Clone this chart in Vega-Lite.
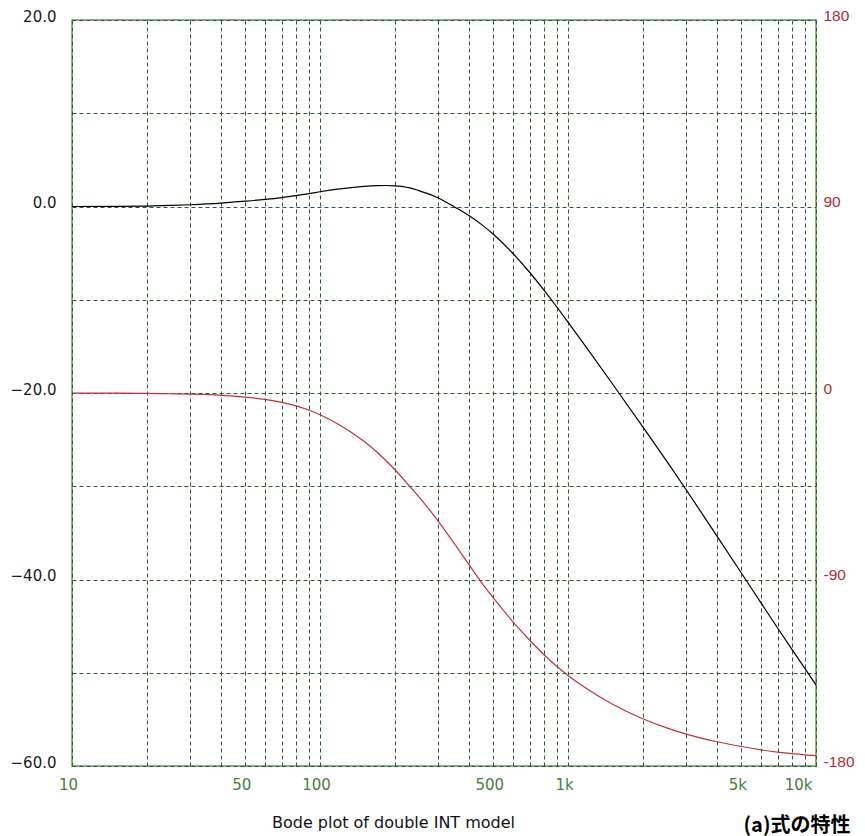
{
  "$schema": "https://vega.github.io/schema/vega-lite/v6.json",
  "width": 744,
  "height": 746,
  "autosize": {"type": "none"},
  "padding": {"left": 72, "top": 20, "right": 49, "bottom": 70},
  "background": "white",
  "config": {
    "view": {"stroke": "#5c9a52", "strokeWidth": 1.5},
    "axis": {"ticks": false, "domain": false, "labelFlush": false, "labelOverlap": false}
  },
  "data": {
    "values": [
      {"f": 10, "db": 0, "ph": -0.05},
      {"f": 15, "db": 0.01, "ph": -0.1},
      {"f": 20, "db": 0.05, "ph": -0.2},
      {"f": 25, "db": 0.11, "ph": -0.35},
      {"f": 30, "db": 0.19, "ph": -0.55},
      {"f": 40, "db": 0.37, "ph": -1.1},
      {"f": 50, "db": 0.57, "ph": -2.0},
      {"f": 60, "db": 0.76, "ph": -3.1},
      {"f": 70, "db": 0.96, "ph": -4.5},
      {"f": 80, "db": 1.17, "ph": -6.2},
      {"f": 90, "db": 1.38, "ph": -8.2},
      {"f": 100, "db": 1.58, "ph": -10.5},
      {"f": 120, "db": 1.88, "ph": -15.4},
      {"f": 150, "db": 2.16, "ph": -23.2},
      {"f": 170, "db": 2.24, "ph": -28.6},
      {"f": 185, "db": 2.25, "ph": -32.8},
      {"f": 200, "db": 2.22, "ph": -36.9},
      {"f": 230, "db": 2.0, "ph": -45.0},
      {"f": 250, "db": 1.7, "ph": -50.0},
      {"f": 300, "db": 0.92, "ph": -61.9},
      {"f": 350, "db": -0.07, "ph": -73.1},
      {"f": 400, "db": -1.0, "ph": -83.1},
      {"f": 450, "db": -1.97, "ph": -91.7},
      {"f": 500, "db": -2.98, "ph": -98.9},
      {"f": 600, "db": -5.04, "ph": -110.4},
      {"f": 700, "db": -7.05, "ph": -119.2},
      {"f": 800, "db": -8.96, "ph": -126.3},
      {"f": 900, "db": -10.75, "ph": -131.9},
      {"f": 1000, "db": -12.4, "ph": -136.3},
      {"f": 1200, "db": -15.3, "ph": -143.0},
      {"f": 1500, "db": -18.9, "ph": -150.0},
      {"f": 2000, "db": -23.6, "ph": -157.2},
      {"f": 2500, "db": -27.3, "ph": -161.6},
      {"f": 3000, "db": -30.4, "ph": -164.6},
      {"f": 4000, "db": -35.4, "ph": -168.3},
      {"f": 5000, "db": -39.3, "ph": -170.6},
      {"f": 6000, "db": -42.5, "ph": -172.2},
      {"f": 7000, "db": -45.2, "ph": -173.3},
      {"f": 8000, "db": -47.5, "ph": -174.0},
      {"f": 9000, "db": -49.5, "ph": -174.6},
      {"f": 10000, "db": -51.3, "ph": -175.0}
    ]
  },
  "layer": [
    {
      "mark": {"type": "line", "color": "#000000", "strokeWidth": 1.2, "interpolate": "monotone"},
      "encoding": {
        "x": {
          "field": "f",
          "type": "quantitative",
          "scale": {"type": "log", "domain": [10, 10000], "nice": false},
          "axis": {
            "orient": "bottom",
            "values": [10, 20, 30, 40, 50, 60, 70, 80, 90, 100, 200, 300, 400, 500, 600, 700, 800, 900, 1000, 2000, 3000, 4000, 5000, 6000, 7000, 8000, 9000, 10000],
            "labelExpr": "datum.value == 10 ? '10' : datum.value == 50 ? '50' : datum.value == 100 ? '100' : datum.value == 500 ? '500' : datum.value == 1000 ? '1k' : datum.value == 5000 ? '5k' : datum.value == 10000 ? '10k' : ''",
            "grid": true,
            "gridDash": [4, 3],
            "gridColor": "#2c5a2c",
            "gridWidth": 1,
            "gridOpacity": 1,
            "labelColor": "#3f7f3f",
            "labelFont": "DejaVu Sans",
            "labelFontSize": 15,
            "labelPadding": 11,
            "labelBaseline": "top",
            "labelOffset": -4,
            "labelAlign": {"condition": {"test": "datum.value >= 10000", "value": "right"}, "value": "center"},
            "title": "Bode plot of double INT model",
            "titleX": 321,
            "titleY": 61,
            "titleAlign": "center",
            "titleBaseline": "alphabetic",
            "titleFont": "DejaVu Sans",
            "titleFontSize": 16,
            "titleFontWeight": "normal",
            "titleColor": "#111111"
          }
        },
        "y": {
          "field": "db",
          "type": "quantitative",
          "scale": {"domain": [-60, 20], "nice": false, "zero": false},
          "axis": {
            "values": [-60, -50, -40, -30, -20, -10, 0, 10, 20],
            "labelExpr": "datum.value % 20 == 0 ? format(datum.value, '.1f') : ''",
            "grid": true,
            "gridDash": [4, 3],
            "gridColor": "#2c5a2c",
            "gridWidth": 1,
            "gridOpacity": 1,
            "labelColor": "#1a1a1a",
            "labelFont": "DejaVu Sans",
            "labelFontSize": 15,
            "labelPadding": 16,
            "labelOffset": -4,
            "labelBaseline": "middle",
            "title": null
          }
        }
      }
    },
    {
      "mark": {"type": "line", "color": "#c0303c", "strokeWidth": 1.2, "interpolate": "monotone"},
      "encoding": {
        "x": {
          "field": "f",
          "type": "quantitative",
          "axis": {
            "orient": "bottom",
            "labels": false,
            "grid": false,
            "title": "(a)式の特性",
            "titleX": 778,
            "titleY": 65,
            "titleAlign": "right",
            "titleBaseline": "alphabetic",
            "titleFont": "Noto Sans CJK JP",
            "titleFontSize": 20,
            "titleFontWeight": "bold",
            "titleColor": "#000000"
          }
        },
        "y": {
          "field": "ph",
          "type": "quantitative",
          "scale": {"domain": [-180, 180], "nice": false, "zero": false},
          "axis": {
            "orient": "right",
            "values": [-180, -90, 0, 90, 180],
            "labelExpr": "datum.value < 0 ? '-' + abs(datum.value) : '' + datum.value",
            "grid": false,
            "labelColor": "#b02a3a",
            "labelFont": "Liberation Sans",
            "labelFontSize": 15.5,
            "labelPadding": 7,
            "labelOffset": -5,
            "labelBaseline": "middle",
            "title": null
          }
        }
      }
    }
  ],
  "resolve": {"scale": {"y": "independent"}, "axis": {"x": "independent"}}
}
